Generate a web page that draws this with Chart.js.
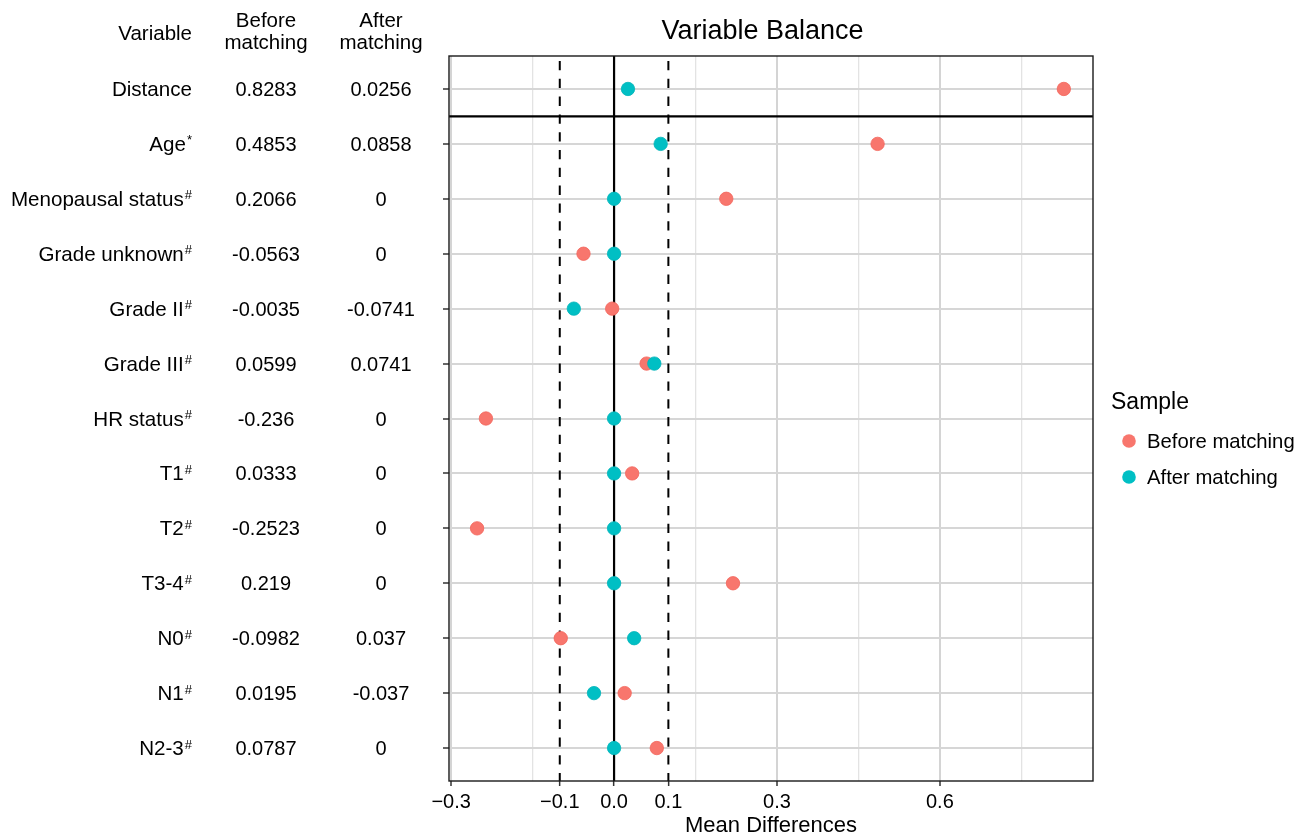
<!DOCTYPE html>
<html>
<head>
<meta charset="utf-8">
<script src="https://cdn.jsdelivr.net/npm/chart.js@4.4.1/dist/chart.umd.min.js"></script>
<style>
body { margin: 0; background: #fff; }
canvas { display: block; }
</style>
</head>
<body>
<canvas id="balanceChart" width="1311" height="837"></canvas>
<script>

const FONT = "'Liberation Sans', Arial, Helvetica, sans-serif";

/* DATA */

const variables = ["Distance", "Age", "Menopausal status", "Grade unknown", "Grade II", "Grade III",
  "HR status", "T1", "T2", "T3-4", "N0", "N1", "N2-3"];
const marks = ["", "*", "#", "#", "#", "#", "#", "#", "#", "#", "#", "#", "#"];

const beforeValues = [0.8283, 0.4853, 0.2066, -0.0563, -0.0035, 0.0599, -0.236, 0.0333, -0.2523, 0.219, -0.0982, 0.0195, 0.0787];
const afterValues = [0.0256, 0.0858, 0, 0, -0.0741, 0.0741, 0, 0, 0, 0, 0.037, -0.037, 0];

const beforeText = ["0.8283", "0.4853", "0.2066", "-0.0563", "-0.0035", "0.0599", "-0.236", "0.0333", "-0.2523", "0.219", "-0.0982", "0.0195", "0.0787"];
const afterText = ["0.0256", "0.0858", "0", "0", "-0.0741", "0.0741", "0", "0", "0", "0", "0.037", "-0.037", "0"];

const xTickValues = [-0.3, -0.1, 0, 0.1, 0.3, 0.6];
const xGridMajor = [-0.3, 0.3, 0.6];
const xGridMinor = [-0.15, 0.15, 0.45, 0.75];
const threshold = [-0.1, 0.1];

const beforeColor = "#F8766D";
const afterColor = "#00BFC4";

function fmtTick(v) {
  if (Math.abs(v) < 1e-9) return "0.0";
  return (v < 0 ? "\u2212" : "") + Math.abs(v).toFixed(1);
}

/* EXTRA DRAWING: reference lines, panel border, table, title, legend */

const decor = {
  id: "decor",
  beforeDatasetsDraw(chart) {
    const { ctx, chartArea: a, scales: { x, y } } = chart;
    ctx.save();
    ctx.beginPath();
    ctx.rect(a.left, a.top, a.right - a.left, a.bottom - a.top);
    ctx.clip();

    ctx.strokeStyle = "#000";
    ctx.lineWidth = 2;
    ctx.setLineDash([9.3, 8.5]);
    ctx.lineDashOffset = 12.8;
    threshold.forEach(v => {
      const px = x.getPixelForValue(v);
      ctx.beginPath();
      ctx.moveTo(px, a.top);
      ctx.lineTo(px, a.bottom);
      ctx.stroke();
    });
    ctx.setLineDash([]);

    const zx = x.getPixelForValue(0);
    ctx.lineWidth = 2.2;
    ctx.beginPath();
    ctx.moveTo(zx, a.top);
    ctx.lineTo(zx, a.bottom);
    ctx.stroke();

    const sy = y.getPixelForValue(0.5);
    ctx.beginPath();
    ctx.moveTo(a.left, sy);
    ctx.lineTo(a.right, sy);
    ctx.stroke();
    ctx.restore();
  },
  afterDraw(chart) {
    const { ctx, chartArea: a, scales: { y } } = chart;
    ctx.save();

    // panel border
    ctx.strokeStyle = "#1a1a1a";
    ctx.lineWidth = 1.4;
    ctx.strokeRect(a.left, a.top, a.right - a.left, a.bottom - a.top);

    ctx.fillStyle = "#000";
    ctx.textBaseline = "alphabetic";

    // title
    ctx.font = "27px " + FONT;
    ctx.textAlign = "center";
    ctx.fillText("Variable Balance", 762.5, 38.5);

    // table header
    ctx.font = "20.5px " + FONT;
    ctx.textAlign = "right";
    ctx.fillText("Variable", 192, 40);
    ctx.textAlign = "center";
    ctx.fillText("Before", 266, 27);
    ctx.fillText("matching", 266, 49);
    ctx.fillText("After", 381, 27);
    ctx.fillText("matching", 381, 49);

    // table rows
    variables.forEach((name, i) => {
      const py = y.getPixelForValue(i) + 7;
      ctx.font = "20.6px " + FONT;
      const w1 = ctx.measureText(name).width;
      ctx.font = "13px " + FONT;
      const w2 = marks[i] ? ctx.measureText(marks[i]).width + 1 : 0;
      ctx.textAlign = "left";
      ctx.font = "20.6px " + FONT;
      ctx.fillText(name, 192 - w1 - w2, py);
      if (marks[i]) {
        ctx.font = "13px " + FONT;
        ctx.fillText(marks[i], 192 - w2 + 1, py - 6.5);
      }
      ctx.font = "20px " + FONT;
      ctx.textAlign = "center";
      ctx.fillText(beforeText[i], 266, py);
      ctx.fillText(afterText[i], 381, py);
    });

    // legend
    ctx.textAlign = "left";
    ctx.font = "23px " + FONT;
    ctx.fillText("Sample", 1111, 409);
    const items = [["Before matching", beforeColor, 441], ["After matching", afterColor, 477]];
    items.forEach(([label, color, cy]) => {
      ctx.beginPath();
      ctx.arc(1129, cy, 6.8, 0, Math.PI * 2);
      ctx.fillStyle = color;
      ctx.fill();
      ctx.fillStyle = "#000";
      ctx.font = "20.3px " + FONT;
      ctx.fillText(label, 1147, cy + 7);
    });
    ctx.restore();
  }
};

/* CHART */

const allXTicks = [...xGridMajor, ...xGridMinor, ...xTickValues].filter((v, i, arr) => arr.indexOf(v) === i).sort((p, q) => p - q);

new Chart(document.getElementById("balanceChart"), {
  type: "scatter",
  data: {
    datasets: [
      {
        label: "Before matching",
        data: beforeValues.map((v, i) => ({ x: v, y: i })),
        backgroundColor: beforeColor,
        borderColor: "#f2655b",
        borderWidth: 0.8,
        pointRadius: 6.7,
        order: 1
      },
      {
        label: "After matching",
        data: afterValues.map((v, i) => ({ x: v, y: i })),
        backgroundColor: afterColor,
        borderColor: "#00b4b9",
        borderWidth: 0.8,
        pointRadius: 6.7,
        order: 0
      }
    ]
  },
  options: {
    responsive: false,
    animation: false,
    events: [],
    layout: { padding: { left: 439, right: 218, top: 56, bottom: 0 } },
    plugins: {
      legend: { display: false },
      title: { display: false },
      tooltip: { enabled: false }
    },
    scales: {
      x: {
        type: "linear",
        min: -0.304,
        max: 0.882,
        afterBuildTicks: s => { s.ticks = allXTicks.map(v => ({ value: v })); },
        afterFit: s => { s.height = 56; },
        border: { display: false },
        grid: {
          color: c => {
            const v = c.tick ? c.tick.value : null;
            if (xGridMajor.includes(v)) return "#d4d4d4";
            if (xGridMinor.includes(v)) return "#e3e3e3";
            return "rgba(0,0,0,0)";
          },
          lineWidth: c => {
            const v = c.tick ? c.tick.value : null;
            return xGridMajor.includes(v) ? 2 : 1.3;
          },
          tickColor: c => {
            const v = c.tick ? c.tick.value : null;
            return xTickValues.includes(v) ? "#333" : "rgba(0,0,0,0)";
          },
          tickLength: 5,
          tickWidth: 1.5
        },
        ticks: {
          autoSkip: false,
          maxRotation: 0,
          padding: 4,
          color: "#000",
          font: { family: FONT, size: 20 },
          callback: v => xTickValues.includes(v) ? fmtTick(v) : ""
        },
        title: {
          display: true,
          text: "Mean Differences",
          color: "#000",
          font: { family: FONT, size: 22, lineHeight: 1 },
          padding: { top: 0, bottom: 0 }
        }
      },
      y: {
        type: "linear",
        reverse: true,
        min: -0.6,
        max: 12.6,
        afterBuildTicks: s => { s.ticks = variables.map((n, i) => ({ value: i })); },
        afterFit: s => { s.width = 10; },
        border: { display: false },
        grid: {
          color: "#d6d6d6",
          lineWidth: 2,
          tickColor: "#333",
          tickLength: 6,
          tickWidth: 1.5
        },
        ticks: { display: false }
      }
    }
  },
  plugins: [decor]
});

</script>
</body>
</html>
